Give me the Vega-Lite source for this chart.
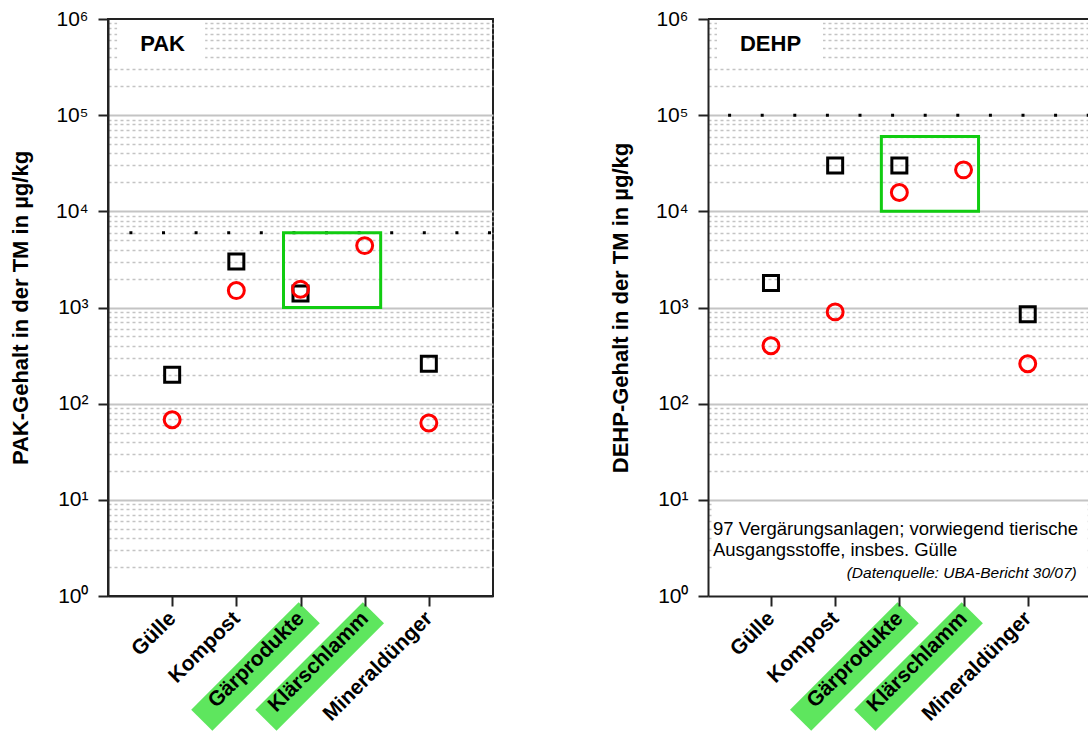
{
  "$schema": "https://vega.github.io/schema/vega-lite/v6.json",
  "padding": {"left": 8, "top": 7, "right": 0, "bottom": 0},
  "config": {
    "font": "Liberation Sans",
    "view": {"stroke": "#222", "strokeWidth": 2},
    "axis": {"labelColor": "#000", "titleColor": "#000", "tickColor": "#222", "domainColor": "#222", "labelFont": "Liberation Sans", "titleFont": "Liberation Sans"}
  },
  "datasets": {
    "pak": [
      {"kategorie": "Gülle", "serie": "A", "wert": 200},
      {"kategorie": "Kompost", "serie": "A", "wert": 3000},
      {"kategorie": "Gärprodukte", "serie": "A", "wert": 1400},
      {"kategorie": "Mineraldünger", "serie": "A", "wert": 260},
      {"kategorie": "Gülle", "serie": "B", "wert": 68},
      {"kategorie": "Kompost", "serie": "B", "wert": 1500},
      {"kategorie": "Gärprodukte", "serie": "B", "wert": 1550},
      {"kategorie": "Klärschlamm", "serie": "B", "wert": 4400},
      {"kategorie": "Mineraldünger", "serie": "B", "wert": 63}
    ],
    "dehp": [
      {"kategorie": "Gülle", "serie": "A", "wert": 1800},
      {"kategorie": "Kompost", "serie": "A", "wert": 30000},
      {"kategorie": "Gärprodukte", "serie": "A", "wert": 30000},
      {"kategorie": "Mineraldünger", "serie": "A", "wert": 850},
      {"kategorie": "Gülle", "serie": "B", "wert": 400},
      {"kategorie": "Kompost", "serie": "B", "wert": 900},
      {"kategorie": "Gärprodukte", "serie": "B", "wert": 15700},
      {"kategorie": "Klärschlamm", "serie": "B", "wert": 27000},
      {"kategorie": "Mineraldünger", "serie": "B", "wert": 260}
    ],
    "hervorgehoben": [
      {"kategorie": "Gärprodukte"},
      {"kategorie": "Klärschlamm"}
    ]
  },
  "spacing": 113,
  "hconcat": [
    {
      "width": 385,
      "height": 577,
      "resolve": {"axis": {"y": "independent"}},
      "layer": [
        {
          "data": {"values": [{}]},
          "mark": {"type": "rect", "fill": "white", "xOffset": -55, "x2Offset": 33},
          "encoding": {
            "x": {"datum": "Gülle", "type": "nominal", "title": null},
            "x2": {"datum": "Gülle"},
            "y": {"datum": 960000, "type": "quantitative", "scale": {"type": "log", "domain": [1, 1000000], "nice": false},
              "axis": {"orient": "left", "values": [2,3,4,5,6,7,8,9,20,30,40,50,60,70,80,90,200,300,400,500,600,700,800,900,2000,3000,4000,5000,6000,7000,8000,9000,20000,30000,40000,50000,60000,70000,80000,90000,200000,300000,400000,500000,600000,700000,800000,900000],
                "grid": true, "gridColor": "#c4c4c4", "gridWidth": 1.5, "gridDash": [3, 3], "labels": false, "ticks": false, "domain": false, "title": null, "zindex": 0}},
            "y2": {"datum": 350000}
          }
        },
        {
          "data": {"values": [{"titel": "PAK"}]},
          "mark": {"type": "text", "align": "left", "baseline": "alphabetic", "fontSize": 22, "fontWeight": "bold", "xOffset": -32, "color": "#000"},
          "encoding": {
            "x": {"datum": "Gülle", "type": "nominal", "title": null},
            "y": {"datum": 464000, "type": "quantitative", "scale": {"type": "log", "domain": [1, 1000000], "nice": false},
              "axis": {"orient": "left", "values": [10, 100, 1000, 10000, 100000], "grid": true, "gridColor": "#c4c4c4", "gridWidth": 2, "labels": false, "ticks": false, "domain": false, "title": null, "zindex": 0}},
            "text": {"field": "titel"}
          }
        },
        {
          "data": {"values": [{"grenzwert": 6000}]},
          "mark": {"type": "rule", "color": "#000", "strokeWidth": 3, "strokeDash": [3, 29.6], "strokeDashOffset": 30.6},
          "encoding": {
            "y": {"field": "grenzwert", "type": "quantitative", "scale": {"type": "log", "domain": [1, 1000000], "nice": false}, "axis": null}
          }
        },
        {
          "data": {"name": "hervorgehoben"},
          "mark": {"type": "point", "shape": "M-1,-0.197L1,-0.197L1,0.197L-1,0.197Z", "angle": -45, "size": 23104, "filled": true, "fill": "#5ee65e", "strokeWidth": 0, "opacity": 1, "xOffset": -45, "yOffset": 70.5},
          "encoding": {
            "x": {"field": "kategorie", "type": "nominal", "title": null},
            "y": {"datum": 1, "type": "quantitative", "scale": {"type": "log", "domain": [1, 1000000], "nice": false}, "axis": null}
          }
        },
        {
          "data": {"values": [{}]},
          "mark": {"type": "rect", "filled": false, "stroke": "#11cc11", "strokeWidth": 3, "xOffset": -17, "x2Offset": 16},
          "encoding": {
            "x": {"datum": "Gärprodukte", "type": "nominal", "title": null},
            "x2": {"datum": "Klärschlamm"},
            "y": {"datum": 1000, "type": "quantitative", "scale": {"type": "log", "domain": [1, 1000000], "nice": false}, "axis": null},
            "y2": {"datum": 6000}
          }
        },
        {
          "data": {"name": "pak"},
          "transform": [{"filter": "datum.serie === 'A'"}],
          "mark": {"type": "point", "shape": "square", "filled": false, "stroke": "#000", "strokeWidth": 3, "size": 225, "opacity": 1},
          "encoding": {
            "x": {"field": "kategorie", "type": "nominal", "title": null,
              "scale": {"type": "point", "domain": ["Gülle", "Kompost", "Gärprodukte", "Klärschlamm", "Mineraldünger"], "padding": 1},
              "axis": {"orient": "bottom", "labelAngle": -45, "labelFontSize": 21, "labelFontWeight": "bold", "labelPadding": 9, "tickSize": 10, "tickWidth": 2, "domainWidth": 2, "title": null, "grid": false, "zindex": 1}},
            "y": {"field": "wert", "type": "quantitative", "scale": {"type": "log", "domain": [1, 1000000], "nice": false},
              "axis": {"orient": "left", "values": [1, 10, 100, 1000, 10000, 100000, 1000000], "grid": false,
                "labelExpr": "'10' + ['⁰','¹','²','³','⁴','⁵','⁶'][round(log(datum.value)/LN10)]",
                "labelFontSize": 21, "labelPadding": 10, "labelOverlap": false, "tickSize": 10, "tickWidth": 2, "domainWidth": 2,
                "title": "PAK-Gehalt in der TM in µg/kg", "titleFontSize": 22, "titleFontWeight": "bold", "titlePadding": 23, "zindex": 1}}
          }
        },
        {
          "data": {"name": "pak"},
          "transform": [{"filter": "datum.serie === 'B'"}],
          "mark": {"type": "point", "shape": "circle", "filled": false, "stroke": "#ff0000", "strokeWidth": 3, "size": 254, "opacity": 1},
          "encoding": {
            "x": {"field": "kategorie", "type": "nominal", "title": null},
            "y": {"field": "wert", "type": "quantitative", "scale": {"type": "log", "domain": [1, 1000000], "nice": false}, "axis": null}
          }
        }
      ]
    },
    {
      "width": 380,
      "height": 577,
      "view": {"stroke": null},
      "resolve": {"axis": {"y": "independent"}},
      "layer": [
        {
          "data": {"values": [{}]},
          "mark": {"type": "rect", "fill": "white", "xOffset": -54, "x2Offset": 52},
          "encoding": {
            "x": {"datum": "Gülle", "type": "nominal", "title": null},
            "x2": {"datum": "Gülle"},
            "y": {"datum": 960000, "type": "quantitative", "scale": {"type": "log", "domain": [1, 1000000], "nice": false},
              "axis": {"orient": "left", "values": [2,3,4,5,6,7,8,9,20,30,40,50,60,70,80,90,200,300,400,500,600,700,800,900,2000,3000,4000,5000,6000,7000,8000,9000,20000,30000,40000,50000,60000,70000,80000,90000,200000,300000,400000,500000,600000,700000,800000,900000],
                "grid": true, "gridColor": "#c4c4c4", "gridWidth": 1.5, "gridDash": [3, 3], "labels": false, "ticks": false, "domain": false, "title": null, "zindex": 0}},
            "y2": {"datum": 350000}
          }
        },
        {
          "data": {"values": [{}]},
          "mark": {"type": "rect", "fill": "white", "xOffset": -59, "x2Offset": 60},
          "encoding": {
            "x": {"datum": "Gülle", "type": "nominal", "title": null},
            "x2": {"datum": "Mineraldünger"},
            "y": {"datum": 9.5, "type": "quantitative", "scale": {"type": "log", "domain": [1, 1000000], "nice": false},
              "axis": {"orient": "left", "values": [10, 100, 1000, 10000, 100000], "grid": true, "gridColor": "#c4c4c4", "gridWidth": 2, "labels": false, "ticks": false, "domain": false, "title": null, "zindex": 0}},
            "y2": {"datum": 1}
          }
        },
        {
          "data": {"values": [{}]},
          "mark": {"type": "rule", "color": "#222", "strokeWidth": 2},
          "encoding": {
            "y": {"datum": 1000000, "type": "quantitative", "scale": {"type": "log", "domain": [1, 1000000], "nice": false}, "axis": null}
          }
        },
        {
          "data": {"values": [{"titel": "DEHP"}]},
          "mark": {"type": "text", "align": "left", "baseline": "alphabetic", "fontSize": 22, "fontWeight": "bold", "xOffset": -31, "color": "#000"},
          "encoding": {
            "x": {"datum": "Gülle", "type": "nominal", "title": null},
            "y": {"datum": 464000, "type": "quantitative", "scale": {"type": "log", "domain": [1, 1000000], "nice": false}, "axis": null},
            "text": {"field": "titel"}
          }
        },
        {
          "data": {"values": [{}]},
          "mark": {"type": "text", "align": "left", "baseline": "alphabetic", "fontSize": 18.5, "lineHeight": 21, "xOffset": -58, "color": "#000",
            "text": ["97 Vergärungsanlagen; vorwiegend tierische", "Ausgangsstoffe, insbes. Gülle"]},
          "encoding": {
            "x": {"datum": "Gülle", "type": "nominal", "title": null},
            "y": {"datum": 4.3, "type": "quantitative", "scale": {"type": "log", "domain": [1, 1000000], "nice": false}, "axis": null}
          }
        },
        {
          "data": {"values": [{}]},
          "mark": {"type": "text", "align": "right", "baseline": "alphabetic", "fontSize": 15.5, "fontStyle": "italic", "xOffset": 49, "color": "#000",
            "text": "(Datenquelle: UBA-Bericht 30/07)"},
          "encoding": {
            "x": {"datum": "Mineraldünger", "type": "nominal", "title": null},
            "y": {"datum": 1.54, "type": "quantitative", "scale": {"type": "log", "domain": [1, 1000000], "nice": false}, "axis": null}
          }
        },
        {
          "data": {"values": [{"grenzwert": 100000}]},
          "mark": {"type": "rule", "color": "#000", "strokeWidth": 3, "strokeDash": [3, 29.6], "strokeDashOffset": 1.7},
          "encoding": {
            "y": {"field": "grenzwert", "type": "quantitative", "scale": {"type": "log", "domain": [1, 1000000], "nice": false}, "axis": null}
          }
        },
        {
          "data": {"name": "hervorgehoben"},
          "mark": {"type": "point", "shape": "M-1,-0.197L1,-0.197L1,0.197L-1,0.197Z", "angle": -45, "size": 23104, "filled": true, "fill": "#5ee65e", "strokeWidth": 0, "opacity": 1, "xOffset": -45, "yOffset": 70.5},
          "encoding": {
            "x": {"field": "kategorie", "type": "nominal", "title": null},
            "y": {"datum": 1, "type": "quantitative", "scale": {"type": "log", "domain": [1, 1000000], "nice": false}, "axis": null}
          }
        },
        {
          "data": {"values": [{}]},
          "mark": {"type": "rect", "filled": false, "stroke": "#11cc11", "strokeWidth": 3, "xOffset": -18, "x2Offset": 15},
          "encoding": {
            "x": {"datum": "Gärprodukte", "type": "nominal", "title": null},
            "x2": {"datum": "Klärschlamm"},
            "y": {"datum": 10000, "type": "quantitative", "scale": {"type": "log", "domain": [1, 1000000], "nice": false}, "axis": null},
            "y2": {"datum": 60000}
          }
        },
        {
          "data": {"name": "dehp"},
          "transform": [{"filter": "datum.serie === 'A'"}],
          "mark": {"type": "point", "shape": "square", "filled": false, "stroke": "#000", "strokeWidth": 3, "size": 225, "opacity": 1},
          "encoding": {
            "x": {"field": "kategorie", "type": "nominal", "title": null,
              "scale": {"type": "point", "domain": ["Gülle", "Kompost", "Gärprodukte", "Klärschlamm", "Mineraldünger"], "padding": 0.96, "align": 0.511},
              "axis": {"orient": "bottom", "labelAngle": -45, "labelFontSize": 21, "labelFontWeight": "bold", "labelPadding": 9, "tickSize": 10, "tickWidth": 2, "domainWidth": 2, "title": null, "grid": false, "zindex": 1}},
            "y": {"field": "wert", "type": "quantitative", "scale": {"type": "log", "domain": [1, 1000000], "nice": false},
              "axis": {"orient": "left", "values": [1, 10, 100, 1000, 10000, 100000, 1000000], "grid": false,
                "labelExpr": "'10' + ['⁰','¹','²','³','⁴','⁵','⁶'][round(log(datum.value)/LN10)]",
                "labelFontSize": 21, "labelPadding": 10, "labelOverlap": false, "tickSize": 10, "tickWidth": 2, "domainWidth": 2,
                "title": "DEHP-Gehalt in der TM in µg/kg", "titleFontSize": 22, "titleFontWeight": "bold", "titlePadding": 23, "zindex": 1}}
          }
        },
        {
          "data": {"name": "dehp"},
          "transform": [{"filter": "datum.serie === 'B'"}],
          "mark": {"type": "point", "shape": "circle", "filled": false, "stroke": "#ff0000", "strokeWidth": 3, "size": 254, "opacity": 1},
          "encoding": {
            "x": {"field": "kategorie", "type": "nominal", "title": null},
            "y": {"field": "wert", "type": "quantitative", "scale": {"type": "log", "domain": [1, 1000000], "nice": false}, "axis": null}
          }
        }
      ]
    }
  ]
}
